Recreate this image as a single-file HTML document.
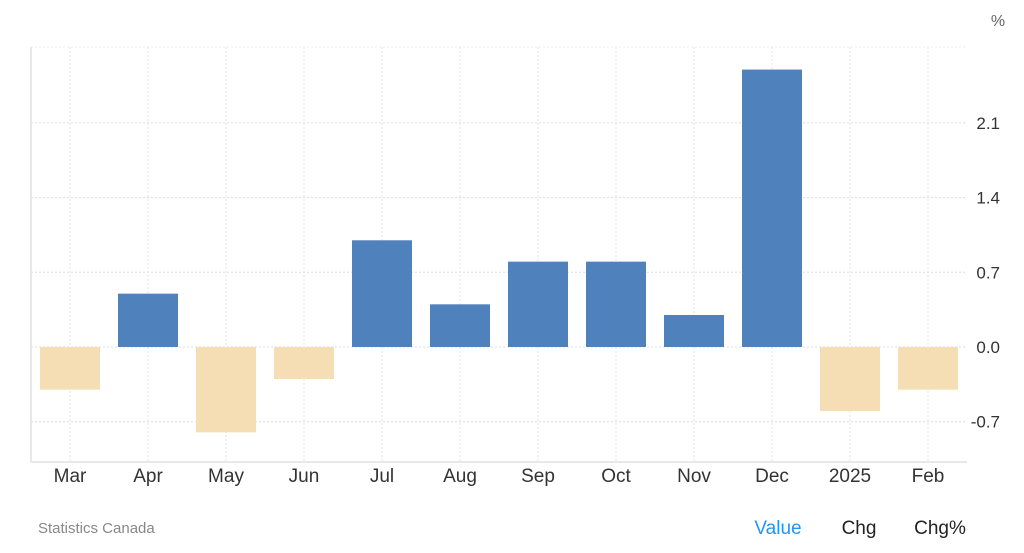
<!DOCTYPE html>
<html><head><meta charset="utf-8"><style>
body{margin:0;background:#fff;font-family:"Liberation Sans",sans-serif;}
svg{display:block}
</style></head><body>
<svg id="chart" width="1024" height="553">
<text x="998" y="26" font-size="16" fill="#666" text-anchor="middle">%</text>
<g id="grid"></g><g id="bars"></g><g id="xlabels"></g><g id="ylabels"></g>
<line x1="31" y1="47" x2="31" y2="462" stroke="#e0e0e0" stroke-width="1.5"/>
<line x1="31" y1="462" x2="967" y2="462" stroke="#e0e0e0" stroke-width="1.5"/>
<text x="38" y="533" font-size="15" fill="#888">Statistics Canada</text>
<text x="778" y="534" font-size="19" fill="#2196f3" text-anchor="middle">Value</text>
<text x="859" y="534" font-size="19" fill="#222" text-anchor="middle">Chg</text>
<text x="940" y="534" font-size="19" fill="#222" text-anchor="middle">Chg%</text>
</svg>
<script>
const categories=["Mar","Apr","May","Jun","Jul","Aug","Sep","Oct","Nov","Dec","2025","Feb"];
const values=[-0.4,0.5,-0.8,-0.3,1.0,0.4,0.8,0.8,0.3,2.6,-0.6,-0.4];
const yTicks=[-0.7,0.0,0.7,1.4,2.1];
const yTickLabels=["-0.7","0.0","0.7","1.4","2.1"];
const NS="http://www.w3.org/2000/svg";
const left=31,right=967,zeroY=347,ppu=106.7,step=(right-left)/categories.length,bw=60;
const y=v=>zeroY-v*ppu;
const xc=i=>left+step*(i+0.5);
function mk(t,a,p){const e=document.createElementNS(NS,t);for(const k in a)e.setAttribute(k,a[k]);p.appendChild(e);return e;}
const grid=document.getElementById('grid'),bars=document.getElementById('bars'),xl=document.getElementById('xlabels'),yl=document.getElementById('ylabels');
yTicks.forEach((t,i)=>{
 const l=mk('line',{x1:left,x2:right,y1:y(t),y2:y(t),stroke:'#ddd','stroke-dasharray':'2,2'},grid);
 
 
 const tx=mk('text',{x:1000,y:y(t)+6,'font-size':17,fill:'#333','text-anchor':'end'},yl);
 tx.textContent=yTickLabels[i];
 
 
});
const tl=mk('line',{x1:left,x2:right,y1:47,y2:47,stroke:'#eee','stroke-dasharray':'2,2'},grid);


categories.forEach((c,i)=>{
 const g=mk('line',{x1:xc(i),x2:xc(i),y1:47,y2:462,stroke:'#e3e3e3','stroke-dasharray':'2,2'},grid);
 
 
 const v=values[i];
 const r=mk('rect',{x:xc(i)-bw/2,y:Math.min(y(v),zeroY),width:bw,height:Math.abs(y(v)-zeroY),fill:v>=0?'#4f81bd':'#f5deb3'},bars);
 
 
 const t=mk('text',{x:xc(i),y:482,'font-size':19,fill:'#333','text-anchor':'middle'},xl);
 t.textContent=c;
 
 
});
</script>
</body></html>
